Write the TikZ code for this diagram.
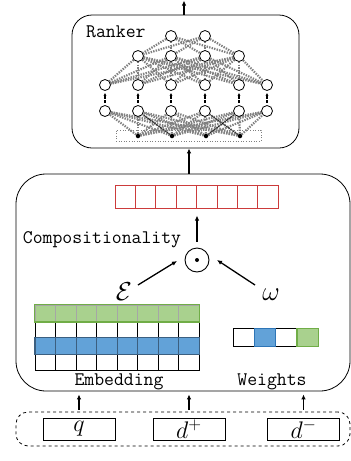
\RequirePackage{fix-cm}
\documentclass[tikz,border=0pt]{standalone}
\usepackage{fontspec}
\usetikzlibrary{calc,backgrounds,arrows.meta}
\definecolor{gfill}{HTML}{A9D18E}
\definecolor{gline}{HTML}{70AD47}
\definecolor{bfill}{HTML}{62A2D8}
\definecolor{bline}{HTML}{2E75B6}
\definecolor{bgrid}{HTML}{3B5F80}
\definecolor{redc}{HTML}{CC3B3B}
\definecolor{edgegray}{HTML}{808080}
\begin{document}
\begin{tikzpicture}[x=1pt,y=-1pt,
  nn/.style={circle,draw,fill=white,minimum size=11pt,inner sep=0pt,line width=0.8pt},
  dotn/.style={circle,fill=black,minimum size=4.5pt,inner sep=0pt},
  gedge/.style={draw=edgegray,line width=2.2pt,dash pattern=on 1.4pt off 1.2pt},
  arr/.style={-{Latex[length=5pt,width=4.5pt]},line width=1.3pt},
  lbl/.style={font=\fontsize{19.2}{21}\selectfont\ttfamily,inner sep=0pt},
  mathlbl/.style={font=\fontsize{24}{26}\selectfont,inner sep=0pt},
  bigbox/.style={draw,line width=0.8pt,inner sep=0pt},
  redcell/.style={draw=redc,line width=1pt,minimum width=20.4pt,minimum height=23pt,inner sep=0pt},
  cell/.style={draw,line width=0.8pt,minimum width=20.5pt,minimum height=16.4pt,inner sep=0pt},
  wcell/.style={draw,line width=0.8pt,minimum width=21.25pt,minimum height=18.4pt,inner sep=0pt},
  inbox/.style={draw,line width=0.8pt,minimum width=72pt,minimum height=22pt,inner sep=0pt}]
\useasboundingbox (0,0) rectangle (351,461);

% Ranker box
\node[bigbox,rounded corners=20pt,minimum width=227pt,minimum height=133pt] (ranker) at (185.5,81.5) {};
\node[lbl,anchor=west] (rankerlbl) at (86,32) {Ranker};
\coordinate (out) at (184,0.5);
\draw[arr,line width=1.6pt] ([xshift=-1.5pt]ranker.north) -- (out);

% network nodes
\node[nn] (a1) at (171,36) {};
\node[nn] (a2) at (205,36) {};
\foreach \x [count=\i] in {138,171,205,239} \node[nn] (b\i) at (\x,56) {};
\foreach \x [count=\i] in {105,138,171,205,239,267} {
  \node[nn] (c\i) at (\x,85) {};
  \node[nn] (e\i) at (\x,111) {};
}
\node[draw=gray,dotted,line width=0.6pt,minimum width=145pt,minimum height=11pt,inner sep=0pt] (inputbox) at (188.5,135.5) {};
\foreach \x [count=\i] in {138,172,206,240} \node[dotn] (p\i) at (\x,136) {};

\begin{scope}[on background layer]
  \foreach \i in {1,2} \foreach \j in {1,...,4} \draw[gedge] (a\i) -- (b\j);
  \foreach \i in {1,...,4} \foreach \j in {1,...,6} \draw[gedge] (b\i) -- (c\j);
  \foreach \i in {1,...,4} \foreach \j in {1,...,6} \draw[gedge] (p\i) -- (e\j);
  \draw[line width=0.4pt] (p2) -- (e2);
  \draw[line width=0.4pt] (p4) -- (e4);
  \draw[line width=0.4pt] (p3) -- (e5);
\end{scope}
\foreach \i in {1,...,6} \draw[-{Latex[length=3pt,width=3pt]},line width=1.4pt,dash pattern=on 3pt off 1.5pt,shorten <=2pt,shorten >=2pt] (e\i) -- (c\i);

% big box
\node[bigbox,rounded corners=30pt,minimum width=334pt,minimum height=217pt] (big) at (183,282.5) {};
\draw[arr] ([xshift=6pt]big.north) -- ([xshift=3.5pt]ranker.south);

% red vector
\foreach \i in {1,...,8} \node[redcell] (r\i) at ({115+20.4*(\i-0.5)},196.5) {};

\node[lbl] (comp) at (102,240) {Compositionality};
\node[circle,draw,line width=0.9pt,minimum size=24pt,inner sep=0pt] (odot) at (197,260) {};
\node[dotn,minimum size=4pt] (odotc) at (odot) {};
\draw[arr,shorten <=6pt,shorten >=7pt] (odot.north) -- (odot.north |- r1.south);

\node[font=\fontsize{26}{28}\selectfont,inner sep=0pt] (eps) at (124,292) {$\mathcal{E}$};
\node[font=\fontsize{27}{28}\selectfont,inner sep=0pt] (om) at (271,295) {$\omega$};
\draw[arr] ($(eps.center)+(14,-7)$) -- ($(odot.center)+(-20,1)$);
\draw[arr] ($(om.center)+(-16,-10)$) -- ($(odot.center)+(20,0)$);

% embedding grid
\foreach \j in {1,...,8} {
  \node[cell] (w\j) at ({35+20.5*(\j-0.5)},{305+16.4*1.5}) {};
  \node[cell] (x\j) at ({35+20.5*(\j-0.5)},{305+16.4*3.5}) {};
}
\foreach \j in {1,...,8} \node[cell,fill=bfill,draw=bgrid] (bl\j) at ({35+20.5*(\j-0.5)},{305+16.4*2.5}) {};
\foreach \j in {1,...,8} \node[cell,fill=gfill,draw=gray!70] (gr\j) at ({35+20.5*(\j-0.5)},{305+16.4*0.5}) {};
\draw[gline,line width=1.5pt] (gr1.north west) rectangle (gr8.south east);
\draw[bgrid,line width=1pt] (bl1.north west) rectangle (bl8.south east);

% weights
\node[wcell] (k1) at ({233.3+21.25*0.5},337.5) {};
\node[wcell] (k3) at ({233.3+21.25*2.5},337.5) {};
\node[wcell,fill=bfill,draw=bline,line width=1.3pt] (k2) at ({233.3+21.25*1.5},337.5) {};
\node[wcell,fill=gfill,draw=gline,line width=1.3pt] (k4) at ({233.3+21.25*3.5},337.5) {};

\node[lbl] (emb) at (119,382) {Embedding};
\node[lbl] (wts) at (272,382) {Weights};

% inputs
\node[bigbox,dashed,rounded corners=12pt,minimum width=334pt,minimum height=34pt] (inputs) at (183,429) {};
\node[inbox] (q) at (79,429) {};
\node[mathlbl] (qt) at (q) {$q$};
\node[inbox] (dp) at (189,429) {};
\node[mathlbl] (dpt) at (dp) {$d^{+}$};
\node[inbox] (dm) at (303.5,429) {};
\node[mathlbl] (dmt) at (dm) {$d^{-}$};
\foreach \n in {q,dp,dm} \draw[arr,shorten <=2pt,shorten >=3pt] (\n |- inputs.north) -- (\n |- big.south);
\end{tikzpicture}
\end{document}
